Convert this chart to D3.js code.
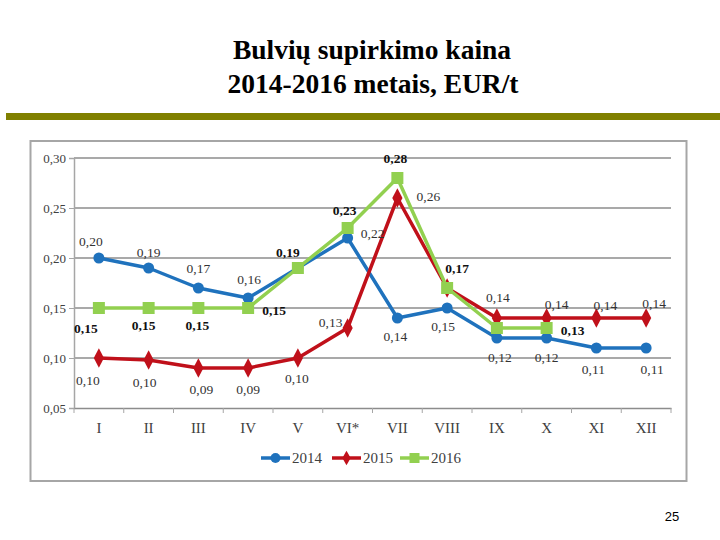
<!DOCTYPE html>
<html><head><meta charset="utf-8">
<script src="https://cdn.jsdelivr.net/npm/d3@7"></script>
<style>body{margin:0;background:#fff;}svg{display:block;}
.serif{font-family:"Liberation Serif","Times New Roman",Times,"DejaVu Serif",serif;}
</style>
</head><body>
<svg id="c" width="720" height="540"></svg>
<script>
const months = ["I","II","III","IV","V","VI*","VII","VIII","IX","X","XI","XII"];
const s2014 = [0.20,0.19,0.17,0.16,0.19,0.22,0.14,0.15,0.12,0.12,0.11,0.11];
const s2015 = [0.10,0.098,0.09,0.09,0.10,0.13,0.26,0.17,0.14,0.14,0.14,0.14];
const s2016 = [0.15,0.15,0.15,0.15,0.19,0.23,0.28,0.17,0.13,0.13,null,null];
const lab2014 = ["0,20","0,19","0,17","0,16",null,"0,22","0,14","0,15","0,12","0,12","0,11","0,11"];
const lab2015 = ["0,10","0,10","0,09","0,09","0,10","0,13","0,26",null,"0,14","0,14","0,14","0,14"];
const lab2016 = ["0,15","0,15","0,15","0,15","0,19","0,23","0,28","0,17",null,"0,13",null,null];
const yTicks = [0.05,0.10,0.15,0.20,0.25,0.30];
const seriesNames = ["2014","2015","2016"];

const svg = d3.select("#c");

// title
svg.append("text").attr("class","serif").attr("x",372).attr("y",59).attr("text-anchor","middle")
  .attr("font-weight","bold").attr("font-size",27.5).text("Bulvių supirkimo kaina");
svg.append("text").attr("class","serif").attr("x",373).attr("y",93).attr("text-anchor","middle")
  .attr("font-weight","bold").attr("font-size",27.5).text("2014-2016 metais, EUR/t");
// olive bar
svg.append("rect").attr("x",6).attr("y",113).attr("width",714).attr("height",7).attr("fill","#808000");
// chart box
svg.append("rect").attr("x",30.5).attr("y",141).attr("width",656).attr("height",340)
  .attr("fill","#fff").attr("stroke","#a6a6a6").attr("stroke-width",2);
// page number
svg.append("text").attr("x",672).attr("y",521).attr("text-anchor","middle")
  .style("font-family","'Liberation Sans',Arial,sans-serif").attr("font-size",13).text("25");

const x = d3.scaleBand().domain(months).range([74,671]);
const y = d3.scaleLinear().domain([0.05,0.30]).range([408,158]);
const cx = m => x(m) + x.bandwidth()/2;
const fmt = v => d3.format(".2f")(v).replace(".",",");

// grid
svg.append("g").selectAll("line").data(yTicks.filter(t=>t>0.05)).join("line")
  .attr("x1",74).attr("x2",671).attr("y1",d=>y(d)).attr("y2",d=>y(d))
  .attr("stroke","#8c8c8c").attr("stroke-width",1.5);

// y axis
const ya = svg.append("g").attr("transform","translate(74,0)")
  .call(d3.axisLeft(y).tickValues(yTicks).tickFormat(fmt).tickSize(5));
ya.attr("font-family",null);
ya.select(".domain").attr("stroke","#a6a6a6").attr("stroke-width",1.5);
ya.selectAll(".tick line").attr("stroke","#a6a6a6");
ya.selectAll("text").attr("class","serif").attr("font-size",13).attr("fill","#404040");

// x axis
const xa = svg.append("g").attr("transform","translate(0,408)")
  .call(d3.axisBottom(x).tickSize(0).tickPadding(14));
xa.attr("font-family",null);
xa.select(".domain").attr("stroke","#8c8c8c").attr("stroke-width",1.5);
xa.selectAll("text").attr("class","serif").attr("font-size",15).attr("fill","#404040");
svg.append("g").selectAll("line").data(d3.range(13)).join("line")
  .attr("x1",d=>74+d*x.step()).attr("x2",d=>74+d*x.step()).attr("y1",408).attr("y2",413)
  .attr("stroke","#a6a6a6").attr("stroke-width",1);

const colors = ["#1f72bd","#c0101a","#92d050"];
const data = [s2014,s2015,s2016];
const line = d3.line().defined(d=>d.v!=null).x(d=>cx(d.m)).y(d=>y(d.v));

data.forEach((s,i)=>{
  const pts = s.map((v,j)=>({m:months[j],v}));
  svg.append("path").datum(pts).attr("d",line).attr("fill","none")
    .attr("stroke",colors[i]).attr("stroke-width",3.5).attr("stroke-linejoin","round");
  const valid = pts.filter(p=>p.v!=null);
  const g = svg.append("g");
  if(i===0){
    g.selectAll("circle").data(valid).join("circle").attr("cx",d=>cx(d.m)).attr("cy",d=>y(d.v)).attr("r",5.5).attr("fill",colors[i]);
  } else if(i===1){
    g.selectAll("path").data(valid).join("path").attr("d",d3.symbol(d3.symbolDiamond,90))
      .attr("transform",d=>`translate(${cx(d.m)},${y(d.v)}) scale(1,1.1)`).attr("fill",colors[i]);
  } else {
    g.selectAll("rect").data(valid).join("rect").attr("x",d=>cx(d.m)-6).attr("y",d=>y(d.v)-6)
      .attr("width",12).attr("height",12).attr("fill",colors[i]);
  }
});

// data labels: offsets [dx,dy] from the point
const off2014 = [[-8,-17],[0,-16],[0,-20],[1,-19],null,[25,-5],[-2,18],[-4,18],[3,19],[0,19],[-3,21],[6,21]];
const off2015 = [[-11,22],[-4,22],[3,21],[0,21],[-1,20],[-17,-6],[31,-2],null,[1,-21],[10,-14],[9,-13],[8,-15]];
const off2016 = [[-13,20],[-5,17],[-1,17],[26,2],[-10,-16],[-3,-18],[-2,-20],[10,-20],null,[26,2],null,null];
function labels(s, labs, offs, bold){
  const items = s.map((v,j)=>({m:months[j],v,t:labs[j],o:offs[j]})).filter(d=>d.t && d.o && d.v!=null);
  svg.append("g").selectAll("text").data(items).join("text").attr("class","serif")
    .attr("x",d=>cx(d.m)+d.o[0]).attr("y",d=>y(d.v)+d.o[1]).attr("text-anchor","middle")
    .attr("dy","0.35em")
    .attr("font-size",13.5).attr("font-weight",bold?"bold":"normal")
    .attr("fill",bold?"#111":"#333").text(d=>d.t);
}
labels(s2014,lab2014,off2014,false);
labels(s2015,lab2015,off2015,false);
labels(s2016,lab2016,off2016,true);

// legend
const legX = [261,332,400];
seriesNames.forEach((n,i)=>{
  const g = svg.append("g").attr("transform",`translate(${legX[i]},458)`);
  g.append("line").attr("x1",0).attr("x2",29).attr("stroke",colors[i]).attr("stroke-width",3.5);
  if(i===0) g.append("circle").attr("cx",14.5).attr("r",5).attr("fill",colors[i]);
  else if(i===1) g.append("path").attr("d",d3.symbol(d3.symbolDiamond,60)).attr("transform","translate(14.5,0)").attr("fill",colors[i]);
  else g.append("rect").attr("x",9.5).attr("y",-5).attr("width",10).attr("height",10).attr("fill",colors[i]);
  g.append("text").attr("class","serif").attr("x",31).attr("y",0).attr("dy","0.35em")
    .attr("font-size",15).attr("fill","#404040").text(n);
});
</script>
</body></html>
